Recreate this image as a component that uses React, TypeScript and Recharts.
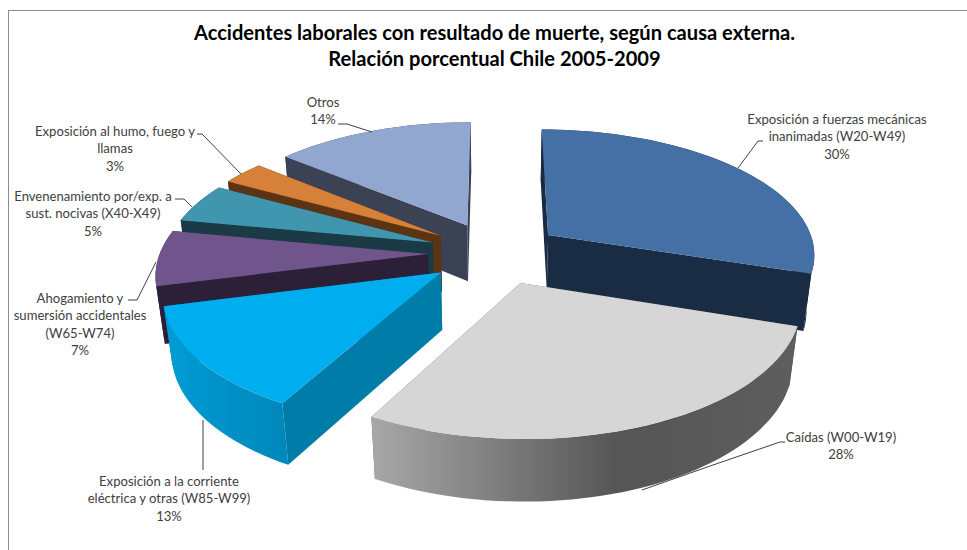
import React from 'react';
import { PieChart, Pie } from 'recharts';

// listed in paint order (back to front), the pie runs counter-clockwise from the end of "Caídas"
const categories = [
  'Exposición a fuerzas mecánicas inanimadas (W20-W49)',
  'Otros',
  'Exposición al humo, fuego y llamas',
  'Envenenamiento por/exp. a sust. nocivas (X40-X49)',
  'Ahogamiento y sumersión accidentales (W65-W74)',
  'Exposición a la corriente eléctrica y otras (W85-W99)',
  'Caídas (W00-W19)',
];
const shares = [30, 14, 3, 5, 7, 13, 28];

const topColors = ['#4570A6', '#92A7CF', '#D7803A', '#4096AF', '#70558C', '#00AEEF', '#D6D6D6'];
const wallColors = ['#1A2C44', '#3B4254', '#5C3413', '#1A3A45', '#2C2038', '#007CA8', '#5A5A5A'];
const rimColors = ['#1A2C44', '#3B4254', '#5C3413', '#1A3A45', '#2C2038', 'url(#rimCyan)', 'url(#rimGray)'];

const data = categories.map((name, i) => ({ name, value: shares[i] }));

// text lines and leader lines for each label
const labelLayout: Record<string, { x: number; y: number; lines: string[]; leader: string }> = {
  [categories[0]]: {
    x: 837, y: 119, lines: ['Exposición a fuerzas mecánicas', 'inanimadas (W20-W49)'],
    leader: '738,168 758,141 763,141',
  },
  [categories[1]]: { x: 323, y: 102, lines: ['Otros'], leader: '372,132 347,124 338,124' },
  [categories[2]]: {
    x: 115, y: 131, lines: ['Exposición al humo, fuego y', 'llamas'],
    leader: '241,174 202,134 197,134',
  },
  [categories[3]]: {
    x: 93, y: 196, lines: ['Envenenamiento por/exp. a', 'sust. nocivas (X40-X49)'],
    leader: '192,207 184,199 175,199',
  },
  [categories[4]]: {
    x: 80, y: 298, lines: ['Ahogamiento y', 'sumersión accidentales', '(W65-W74)'],
    leader: '156,262 137,300 128,300',
  },
  [categories[5]]: {
    x: 169, y: 481, lines: ['Exposición a la corriente', 'eléctrica y otras (W85-W99)'],
    leader: '203,420 203,470',
  },
  [categories[6]]: { x: 841, y: 437, lines: ['Caídas (W00-W19)'], leader: '642,490 713,465 780,442 785,442' },
};

const FONT = 'Lato, sans-serif';
const EXPLODE = 0.25; // slice offset, in radii
const TILT = 0.466; // vertical squash of the disc
const PERSPECTIVE = 0.14;
const PERSPECTIVE_Z = 0.025;
const DEPTH = 58; // thickness in px

const rad = (deg: number) => (deg * Math.PI) / 180;

const Slice3D = (props: any) => {
  const { cx, cy, outerRadius: R, startAngle, endAngle, index } = props;
  const a0 = 90 - Math.max(startAngle, endAngle); // clockwise from the top
  const a1 = 90 - Math.min(startAngle, endAngle);
  const mid = (a0 + a1) / 2;
  const du = EXPLODE * Math.sin(rad(mid));
  const dv = -EXPLODE * Math.cos(rad(mid));

  const project = (u: number, v: number, z: number) => {
    const w = 1 - PERSPECTIVE * v + PERSPECTIVE_Z * z;
    const x = cx + (R * u) / w;
    const y = cy + (R * TILT * v + DEPTH * z) / w;
    return `${x.toFixed(1)},${y.toFixed(1)}`;
  };
  const rimPoint = (deg: number, z: number) =>
    project(du + Math.sin(rad(deg)), dv - Math.cos(rad(deg)), z);
  const apex = (z: number) => project(du, dv, z);

  const rim: number[] = [];
  const steps = Math.ceil((a1 - a0) / 2);
  for (let i = 0; i <= steps; i++) rim.push(a0 + ((a1 - a0) * i) / steps);

  const top = [apex(0), ...rim.map((d) => rimPoint(d, 0))].join(' ');
  const wall = [...rim.map((d) => rimPoint(d, 0)), ...[...rim].reverse().map((d) => rimPoint(d, 1))].join(' ');
  const cutStart = [apex(0), rimPoint(a0, 0), rimPoint(a0, 1), apex(1)].join(' ');
  const cutEnd = [apex(0), rimPoint(a1, 0), rimPoint(a1, 1), apex(1)].join(' ');

  return (
    <g>
      <polygon points={cutStart} fill={wallColors[index]} />
      <polygon points={cutEnd} fill={wallColors[index]} />
      <polygon points={wall} fill={rimColors[index]} />
      <polygon points={top} fill={topColors[index]} />
    </g>
  );
};

const renderLabel = (props: any) => {
  const layout = labelLayout[props.name];
  if (!layout) return null;
  const rows = [...layout.lines, `${props.value}%`];
  return (
    <text x={layout.x} y={layout.y} textAnchor="middle" fontFamily={FONT} fontSize={13.1} fill="#404040">
      {rows.map((row, i) => (
        <tspan key={row} x={layout.x} y={layout.y + i * 17.4} dominantBaseline="central">
          {row}
        </tspan>
      ))}
    </text>
  );
};

const renderLeader = (props: any) => {
  const layout = labelLayout[props.name];
  if (!layout) return null;
  return <polyline points={layout.leader} fill="none" stroke="#404040" strokeWidth={1} />;
};

export default function App() {
  return (
    <div style={{ position: 'absolute', left: 0, top: 0, width: 967, height: 550, overflow: 'hidden', background: '#fff' }}>
      <div style={{ position: 'absolute', left: 8, top: 10, width: 959, height: 540, borderTop: '1px solid #8c8c8c', borderLeft: '1px solid #8c8c8c' }} />
      <div style={{ position: 'absolute', left: 0, top: 0 }}>
        <PieChart width={967} height={550} margin={{ top: 0, right: 0, bottom: 0, left: 0 }}>
          <defs>
            <linearGradient id="rimGray" x1="0" y1="0" x2="1" y2="0">
              <stop offset="0" stopColor="#A8A8A8" />
              <stop offset="0.58" stopColor="#555555" />
              <stop offset="1" stopColor="#5E5E5E" />
            </linearGradient>
            <linearGradient id="rimCyan" x1="0" y1="0" x2="1" y2="0">
              <stop offset="0" stopColor="#009CD6" />
              <stop offset="1" stopColor="#0087BA" />
            </linearGradient>
          </defs>
          <text x={494.5} y={40} textAnchor="middle" fontFamily={FONT} fontSize={20.1} fontWeight={700} fill="#000">
            Accidentes laborales con resultado de muerte, según causa externa.
          </text>
          <text x={494.5} y={66} textAnchor="middle" fontFamily={FONT} fontSize={20.1} fontWeight={700} fill="#000">
            Relación porcentual Chile 2005-2009
          </text>
          <Pie
            data={data}
            dataKey="value"
            nameKey="name"
            cx={495}
            cy={253}
            innerRadius={0}
            outerRadius={268}
            startAngle={-18}
            endAngle={342}
            paddingAngle={0}
            stroke="none"
            isAnimationActive={false}
            shape={Slice3D}
            inactiveShape={Slice3D}
            activeShape={Slice3D}
            label={renderLabel}
            labelLine={renderLeader}
          />
        </PieChart>
      </div>
    </div>
  );
}
